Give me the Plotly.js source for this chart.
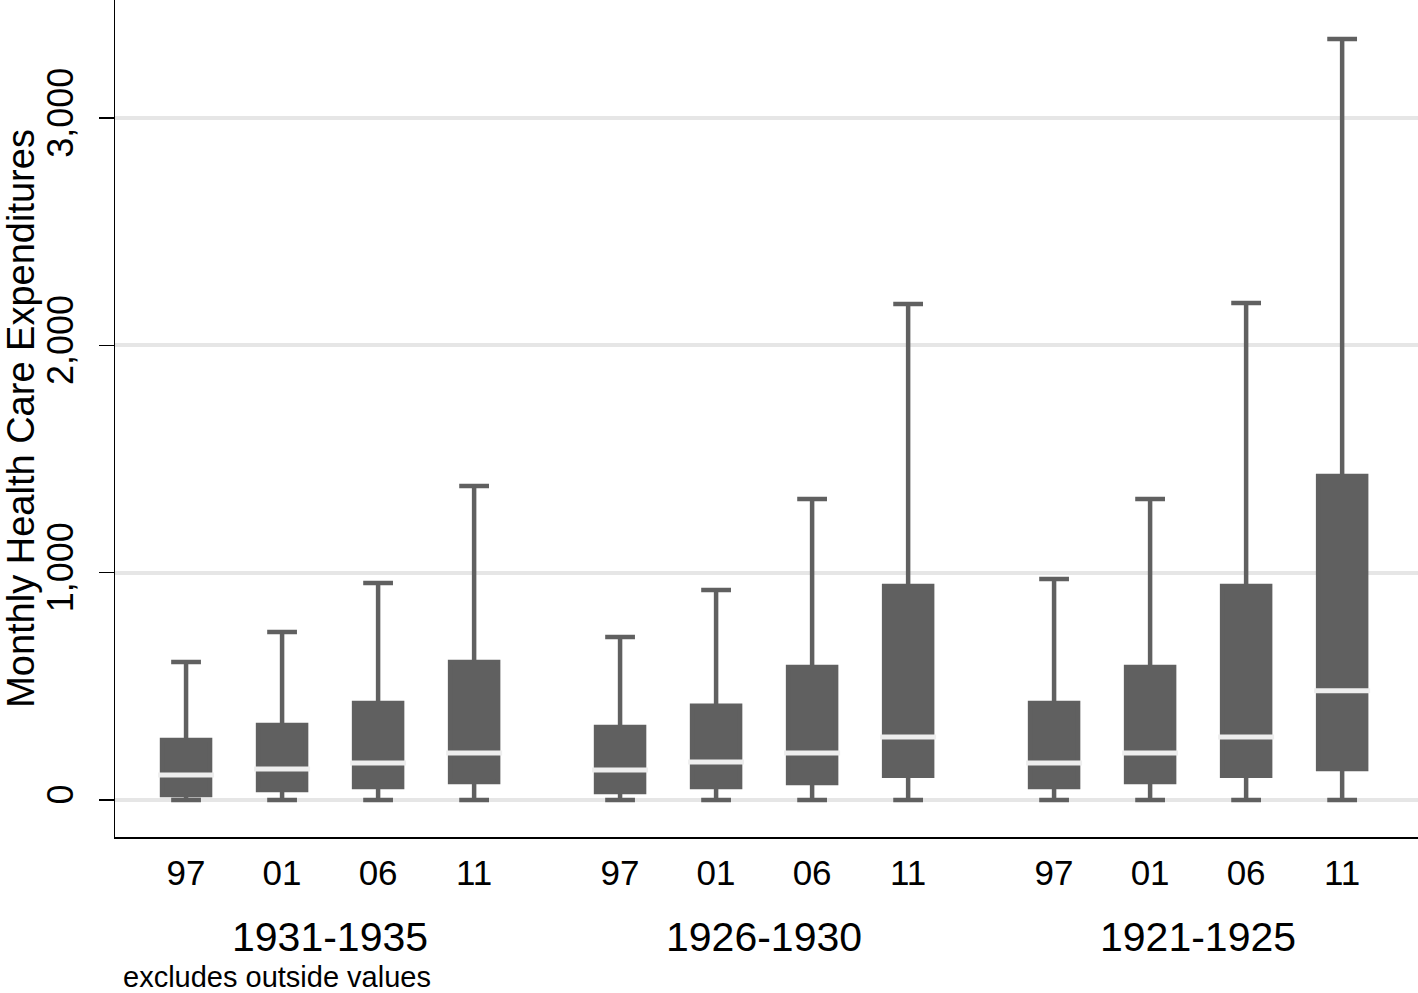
<!DOCTYPE html>
<html>
<head>
<meta charset="utf-8">
<script src="https://cdn.plot.ly/plotly-3.0.1.min.js"></script>
<style>html,body{margin:0;padding:0;background:#fff;}</style>
</head>
<body>
<div id="chart" style="width:1418px;height:993px;"></div>
<script>
// Data
const cohorts = ["1931-1935", "1926-1930", "1921-1925"];
const waves = ["97", "01", "06", "11"];
// values per box, ordered cohort by cohort, wave by wave
const lowerWhisker = [0, 0, 0, 0,   0, 0, 0, 0,   0, 0, 0, 0];
const q1Values     = [22, 44, 57, 79,   35, 57, 75, 106,   57, 79, 106, 136];
const medianValues = [110, 136, 163, 207,   132, 167, 207, 277,   163, 207, 277, 480];
const q3Values     = [264, 330, 427, 607,   321, 414, 585, 941,   427, 585, 941, 1425];
const upperWhisker = [607, 739, 955, 1381,   717, 924, 1324, 2182,   972, 1324, 2187, 3348];
const yTicks = [0, 1000, 2000, 3000];

// layout helpers
const groupStep = 4.52;
const xPos = [], tickText = [];
cohorts.forEach((c, g) => waves.forEach((w, i) => { xPos.push(g * groupStep + i); tickText.push(w); }));
const groupCenters = cohorts.map((c, g) => g * groupStep + (waves.length - 1) / 2);

const FONT = "Liberation Sans, Arial, sans-serif";
const boxColor = "#606060";

const boxTrace = {
  type: "box",
  x: xPos,
  lowerfence: lowerWhisker,
  q1: q1Values,
  median: medianValues,
  q3: q3Values,
  upperfence: upperWhisker,
  width: 0.5,
  whiskerwidth: 0.62,
  fillcolor: boxColor,
  line: { color: boxColor, width: 4.5 },
  boxpoints: false,
  showlegend: false,
  hoverinfo: "skip"
};

const medianTrace = {
  type: "scatter",
  mode: "markers",
  x: xPos,
  y: medianValues,
  marker: { symbol: "line-ew-open", size: 40, color: "#eeeeee", line: { color: "#eeeeee", width: 5 } },
  showlegend: false,
  hoverinfo: "skip"
};

const plotLeft = 115, plotBottomPx = 837, plotHeight = 837;
const annotations = cohorts.map((c, g) => ({
  x: groupCenters[g], xref: "x",
  y: -(937 - plotBottomPx) / plotHeight, yref: "paper",
  text: c, showarrow: false, xanchor: "center", yanchor: "middle",
  font: { family: FONT, size: 41, color: "#000" }
}));
annotations.push({
  x: (121 - plotLeft) / 1303, xref: "paper",
  y: -(995 - plotBottomPx) / plotHeight, yref: "paper",
  text: "excludes outside values", showarrow: false, xanchor: "left", yanchor: "bottom",
  font: { family: FONT, size: 29, color: "#000" }
});

const layout = {
  width: 1418, height: 993,
  margin: { l: 115, r: 0, t: 0, b: 156 },
  paper_bgcolor: "#ffffff", plot_bgcolor: "#ffffff",
  font: { family: FONT, color: "#000" },
  xaxis: {
    range: [-0.74, 12.83],
    tickvals: xPos, ticktext: tickText,
    ticks: "", showgrid: false, zeroline: false,
    showline: true, linecolor: "#000", linewidth: 1.5,
    tickfont: { family: FONT, size: 35, color: "#000" },
    ticklabelstandoff: 4
  },
  yaxis: {
    range: [-163, 3520],
    tickvals: yTicks, tickformat: ",",
    tickangle: -90,
    ticks: "outside", ticklen: 15, tickwidth: 1.5, tickcolor: "#000",
    showgrid: true, gridcolor: "#e6e6e6", gridwidth: 4,
    zeroline: false,
    showline: true, linecolor: "#000", linewidth: 1.5,
    tickfont: { family: FONT, size: 36, color: "#000" },
    ticklabelstandoff: 11,
    title: { text: "Monthly Health Care Expenditures", font: { family: FONT, size: 38, color: "#000" }, standoff: 8 }
  },
  annotations: annotations
};

Plotly.newPlot("chart", [boxTrace, medianTrace], layout, { staticPlot: true, displayModeBar: false });
</script>
</body>
</html>
